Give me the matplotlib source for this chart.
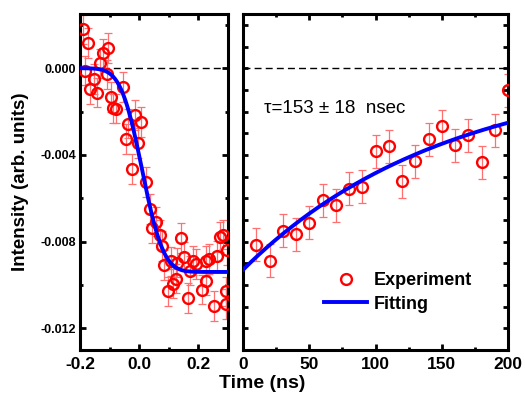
import math

import matplotlib

matplotlib.use("Agg")

import matplotlib.pyplot as plt  # noqa: E402
import numpy as np  # noqa: E402
from matplotlib.lines import Line2D  # noqa: E402
from matplotlib.ticker import MultipleLocator  # noqa: E402

plt.rcParams["font.family"] = ["Liberation Sans", "DejaVu Sans"]

# ---------------------------------------------------------------- data
# short-time window (ns)
t_short = [-0.189, -0.183, -0.172, -0.167, -0.152, -0.143, -0.133, -0.123,
           -0.110, -0.104, -0.095, -0.087, -0.077, -0.056, -0.044, -0.039,
           -0.025, -0.015, -0.004, 0.007, 0.022, 0.035, 0.042, 0.056, 0.069,
           0.078, 0.084, 0.096, 0.108, 0.113, 0.124, 0.128, 0.141, 0.152,
           0.164, 0.171, 0.181, 0.192, 0.213, 0.224, 0.224, 0.237, 0.253,
           0.262, 0.274, 0.284, 0.298, 0.294, 0.292]
y_short = [0.00179, -0.00011, 0.00116, -0.00098, -0.00049, -0.00113, 0.00022,
           0.00068, -0.00029, 0.00093, -0.00134, -0.00185, -0.00186, -0.00086,
           -0.00327, -0.00256, -0.00465, -0.00217, -0.00345, -0.00248,
           -0.00526, -0.00649, -0.00737, -0.00708, -0.00768, -0.00821,
           -0.00907, -0.01029, -0.00891, -0.00994, -0.00971, -0.00897,
           -0.00784, -0.00869, -0.01059, -0.00934, -0.00888, -0.00904,
           -0.01022, -0.00980, -0.00888, -0.00881, -0.01096, -0.00867,
           -0.00779, -0.00768, -0.00839, -0.01029, -0.01087]
err_short = 0.00068

# long-time window (ns)
t_long = [10, 20, 30, 40, 50, 60, 70, 80, 90, 100,
          110, 120, 130, 140, 150, 160, 170, 180, 190, 200]
y_long = [-0.00814, -0.00888, -0.00749, -0.00767, -0.00712, -0.00610,
          -0.00633, -0.00555, -0.00546, -0.00384, -0.00361, -0.00522,
          -0.00430, -0.00328, -0.00268, -0.00356, -0.00310, -0.00435,
          -0.00287, -0.00102]
err_long = 0.00076

# fit parameters
STEP_AMP = -0.0094      # step height of the rise
STEP_T0 = 0.010         # ns
STEP_W = 0.080          # ns
DECAY_AMP = -0.0093
TAU_NS = 153.0

RED = "#ff0000"
ERR = "#ff7070"
BLUE = "#0000ff"


def style_axis(ax):
    for sp in ax.spines.values():
        sp.set_linewidth(2.2)
    ax.tick_params(which="both", direction="in", top=True, right=True,
                   width=2.0)
    ax.tick_params(which="major", length=4)
    ax.tick_params(which="minor", length=2.5)
    for lab in ax.get_xticklabels() + ax.get_yticklabels():
        lab.set_fontweight("bold")


def draw_points(ax, x, y, err):
    ax.errorbar(x, y, yerr=err, fmt="none", ecolor=ERR, elinewidth=0.9,
                capsize=3, capthick=0.9, zorder=2)
    ax.plot(x, y, "o", ms=7.8, mfc="none", mec=RED, mew=1.7, zorder=3)


fig = plt.figure(figsize=(5.25, 3.93), dpi=100)
ax1 = fig.add_axes([0.1524, 0.1094, 0.2819, 0.855])
ax2 = fig.add_axes([0.4629, 0.1094, 0.5048, 0.855])

ylim = (-0.0130, 0.0025)

# ---------------------------------------------------------------- left
draw_points(ax1, t_short, y_short, err_short)
tt = np.linspace(-0.2, 0.3, 300)
step = np.array([STEP_AMP * 0.5 * (1 + math.erf((t - STEP_T0) / STEP_W))
                 for t in tt])
ax1.plot(tt, step, color=BLUE, lw=2.8, zorder=4)
ax1.axhline(0, color="k", lw=1.0, dashes=(5, 3), zorder=1)
ax1.set_xlim(-0.2, 0.3)
ax1.set_ylim(*ylim)
ax1.xaxis.set_major_locator(MultipleLocator(0.2))
ax1.xaxis.set_minor_locator(MultipleLocator(0.1))
ax1.yaxis.set_major_locator(MultipleLocator(0.004))
ax1.yaxis.set_minor_locator(MultipleLocator(0.002))
ax1.set_xticks([-0.2, 0.0, 0.2])
ax1.set_xticklabels(["-0.2", "0.0", "0.2"], fontsize=12.5)
ax1.set_yticks([0.0, -0.004, -0.008, -0.012])
ax1.set_yticklabels(["0.000", "-0.004", "-0.008", "-0.012"], fontsize=9)
ax1.tick_params(axis="x", pad=5)
ax1.tick_params(axis="y", pad=3)
style_axis(ax1)

# ---------------------------------------------------------------- right
draw_points(ax2, t_long, y_long, err_long)
tl = np.linspace(0, 200, 300)
ax2.plot(tl, DECAY_AMP * np.exp(-tl / TAU_NS), color=BLUE, lw=2.8, zorder=4)
ax2.axhline(0, color="k", lw=1.0, dashes=(5, 3), zorder=1)
ax2.set_xlim(0, 200)
ax2.set_ylim(*ylim)
ax2.xaxis.set_major_locator(MultipleLocator(50))
ax2.xaxis.set_minor_locator(MultipleLocator(25))
ax2.yaxis.set_major_locator(MultipleLocator(0.001))
ax2.set_yticklabels([])
ax2.set_xticks([0, 50, 100, 150, 200])
ax2.set_xticklabels(["0", "50", "100", "150", "200"], fontsize=12.5)
ax2.tick_params(axis="x", pad=5)
style_axis(ax2)
ax2.tick_params(axis="y", which="major", length=3.5)

ax2.text(16, -0.00185, "τ=153 ± 18  nsec", fontsize=13.5, ha="left",
         va="center")

handles = [
    Line2D([], [], ls="none", marker="o", ms=7.8, mfc="none", mec=RED,
           mew=1.7, label="Experiment"),
    Line2D([], [], color=BLUE, lw=2.8, label="Fitting"),
]
ax2.legend(handles=handles, loc="lower right", bbox_to_anchor=(0.925, 0.063),
           frameon=False, prop={"weight": "bold", "size": 13},
           handlelength=2.4, handletextpad=0.35, labelspacing=0.35)

fig.text(0.04, 0.5365, "Intensity (arb. units)", rotation=90, ha="center",
         va="center", fontsize=13.5, fontweight="bold")
fig.text(0.5, 0.025, "Time (ns)", ha="center", va="center", fontsize=14,
         fontweight="bold")

fig.savefig("out.png", dpi=100)
